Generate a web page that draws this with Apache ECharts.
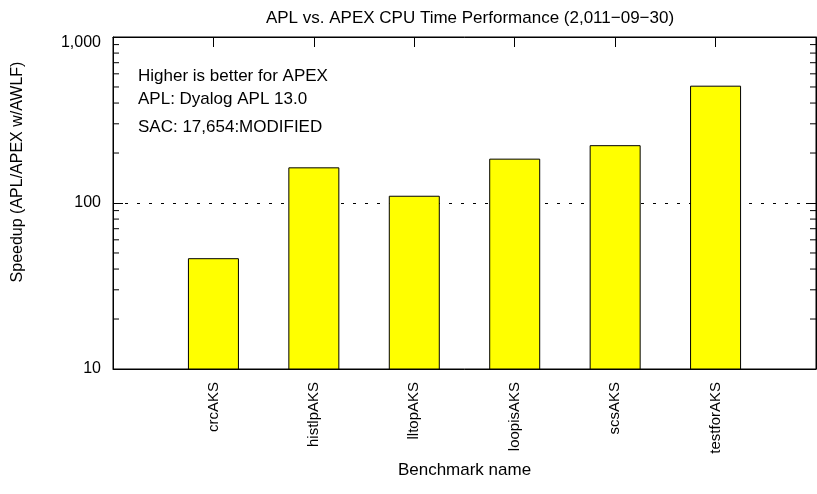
<!DOCTYPE html>
<html>
<head>
<meta charset="utf-8">
<script src="https://cdn.jsdelivr.net/npm/echarts@6/dist/echarts.min.js"></script>
<style>
  html, body { margin: 0; padding: 0; background: #fff; }
  #chart { width: 817px; height: 494px; }
</style>
</head>
<body>
<div id="chart"></div>
<script>
// Benchmarks (blank slots pad the axis at both ends)
const benchmarks = ['', 'crcAKS', 'histlpAKS', 'lltopAKS', 'loopisAKS', 'scsAKS', 'testforAKS', ''];
// Speedup of APEX over APL (log scale)
const speedup = ['-', 46.5, 164, 110.6, 185, 223, 509, '-'];
// Log-axis range and minor tick values
const yMin = 10;
const yMax = 1000;
const minorTickValues = [20, 30, 40, 50, 60, 70, 80, 90, 200, 300, 400, 500, 600, 700, 800, 900];

const FONT = 'Liberation Sans';

const chart = echarts.init(document.getElementById('chart'), null, { renderer: 'canvas' });

function fmtThousands(v) {
  const s = String(Math.round(v)).replace(/\B(?=(\d{3})+(?!\d))/g, ',');
  // the top label sits a little below the frame edge
  return Math.round(v) === yMax ? '{top|' + s + '}' : s;
}

chart.setOption({
  backgroundColor: '#ffffff',
  animation: false,
  title: {
    text: 'APL vs. APEX CPU Time Performance (2,011\u221209\u221230)',
    left: 465,
    textAlign: 'center',
    top: 5,
    textStyle: { fontFamily: FONT, fontSize: 17, fontWeight: 'normal', color: '#000' }
  },
  grid: {
    left: 113, right: 1, top: 37, bottom: 125,
    show: true, borderColor: '#000', borderWidth: 1, backgroundColor: 'transparent'
  },
  xAxis: [
    {
      type: 'category',
      data: benchmarks,
      boundaryGap: false,
      position: 'bottom',
      axisLine: { show: true, lineStyle: { color: '#000', width: 1 } },
      axisTick: { show: false },
      axisLabel: {
        rotate: 90, margin: 13, interval: 0,
        fontFamily: FONT, fontSize: 15, color: '#000'
      },
      splitLine: { show: false },
      name: 'Benchmark name',
      nameLocation: 'middle',
      nameGap: 84,
      nameTextStyle: { fontFamily: FONT, fontSize: 17, color: '#000' }
    },
    {
      type: 'category',
      data: benchmarks,
      boundaryGap: false,
      position: 'top',
      axisLine: { show: true, lineStyle: { color: '#000', width: 1 } },
      axisTick: { show: true, inside: true, length: 10, interval: 0, lineStyle: { color: '#000' } },
      axisLabel: { show: false },
      splitLine: { show: false }
    }
  ],
  yAxis: [
    {
      type: 'log',
      logBase: 10,
      min: yMin,
      max: yMax,
      position: 'left',
      axisLine: { show: true, lineStyle: { color: '#000', width: 1 } },
      axisTick: { show: true, inside: true, length: 10, lineStyle: { color: '#000' } },
      axisLabel: {
        margin: 12, fontFamily: FONT, fontSize: 16, color: '#000',
        formatter: fmtThousands,
        rich: {
          top: { fontFamily: FONT, fontSize: 16, color: '#000', padding: [12, 0, 0, 0] }
        }
      },
      splitLine: { show: true, lineStyle: { color: '#000', type: [3, 9], width: 1 } }
    },
    {
      type: 'log',
      logBase: 10,
      min: yMin,
      max: yMax,
      position: 'right',
      axisLine: { show: true, lineStyle: { color: '#000', width: 1 } },
      axisTick: { show: true, inside: true, length: 10, lineStyle: { color: '#000' } },
      axisLabel: { show: false },
      splitLine: { show: false }
    }
  ],
  graphic: [
    {
      type: 'text', x: 18, y: 172, rotation: Math.PI / 2,
      style: {
        text: 'Speedup (APL/APEX w/AWLF)', fontFamily: FONT, fontSize: 16, fill: '#000',
        textAlign: 'center', textVerticalAlign: 'middle'
      }
    },
    {
      type: 'text', left: 138, top: 68,
      style: { text: 'Higher is better for APEX', fontFamily: FONT, fontSize: 17, fill: '#000' }
    },
    {
      type: 'text', left: 138, top: 91,
      style: { text: 'APL: Dyalog APL 13.0', fontFamily: FONT, fontSize: 17, fill: '#000' }
    },
    {
      type: 'text', left: 138, top: 119,
      style: { text: 'SAC: 17,654:MODIFIED', fontFamily: FONT, fontSize: 17, fill: '#000' }
    }
  ],
  series: [
    {
      type: 'bar',
      xAxisIndex: 0,
      yAxisIndex: 0,
      data: speedup,
      barWidth: 51,
      itemStyle: { color: '#ffff00', borderColor: '#000', borderWidth: 1 },
      z: 3
    },
    {
      // minor ticks on left and right frame edges
      type: 'custom',
      xAxisIndex: 0,
      yAxisIndex: 0,
      silent: true,
      data: minorTickValues.map(v => [0, v]),
      renderItem: function (params, api) {
        const cs = params.coordSys;
        const y = api.coord([0, api.value(1)])[1];
        const style = { stroke: '#000', lineWidth: 1 };
        return {
          type: 'group',
          children: [
            { type: 'line', shape: { x1: cs.x, y1: y, x2: cs.x + 6, y2: y }, style: style },
            { type: 'line', shape: { x1: cs.x + cs.width - 6, y1: y, x2: cs.x + cs.width, y2: y }, style: style }
          ]
        };
      },
      z: 4
    }
  ]
});
</script>
</body>
</html>
